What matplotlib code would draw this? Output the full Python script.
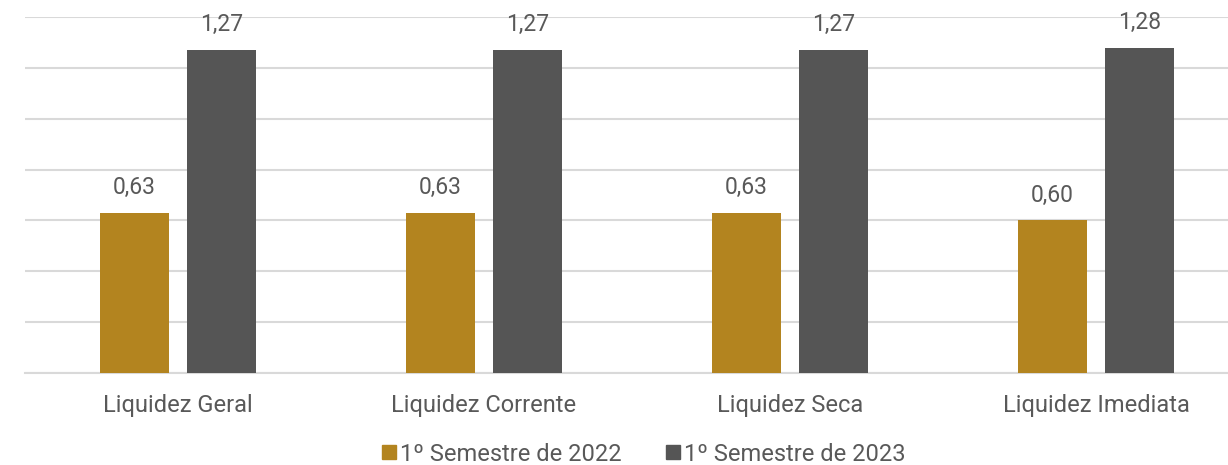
import matplotlib.pyplot as plt
import numpy as np

plt.rcParams['font.family'] = ['Roboto', 'DejaVu Sans']

categories = ['Liquidez Geral', 'Liquidez Corrente', 'Liquidez Seca', 'Liquidez Imediata']
sem_2022 = [0.63, 0.63, 0.63, 0.60]
sem_2023 = [1.27, 1.27, 1.27, 1.28]
series_names = ['1º Semestre de 2022', '1º Semestre de 2023']

gold = '#B3841F'
gray = '#555555'
text_col = '#595959'

fig = plt.figure(figsize=(12.28, 4.65), dpi=100)
# axes runs a bit past the right edge, like the original export
ax = fig.add_axes([25 / 1228, 92 / 465, 1224 / 1228, 356 / 465])

x = np.arange(len(categories))
w = 0.225
off = 0.143
b1 = ax.bar(x - off, sem_2022, w, color=gold, zorder=3, label=series_names[0])
b2 = ax.bar(x + off, sem_2023, w, color=gray, zorder=3, label=series_names[1])

for bars in (b1, b2):
    for r in bars:
        ax.annotate(f'{r.get_height():.2f}'.replace('.', ','),
                    (r.get_x() + r.get_width() / 2, r.get_height()),
                    xytext=(0, 10), textcoords='offset points',
                    ha='center', va='bottom', fontsize=16.5, color=text_col)

ax.set_xlim(-0.5, 3.5)
ax.set_ylim(0, 1.4)
ax.set_yticks(np.arange(0, 1.41, 0.2))
ax.yaxis.grid(True, color='#D9D9D9', linewidth=1.5, zorder=0)
ax.set_yticklabels([])
ax.tick_params(axis='y', length=0)
ax.tick_params(axis='x', length=0, pad=15, labelsize=17, labelcolor=text_col)
ax.set_xticks(x)
ax.set_xticklabels(categories)
for s in ['top', 'right', 'left']:
    ax.spines[s].set_visible(False)
ax.spines['bottom'].set_color('#D9D9D9')
ax.spines['bottom'].set_linewidth(1.5)

handles = [plt.Line2D([], [], marker='s', linestyle='', color=c, markersize=10)
           for c in (gold, gray)]
fig.legend(handles, series_names, loc='center', bbox_to_anchor=(642 / 1228, 1 - 454 / 465),
           ncol=2, frameon=False, fontsize=17, labelcolor=text_col,
           handletextpad=0.0, columnspacing=1.75, handlelength=0.9,
           borderpad=0.1)

fig.savefig('out.png', dpi=100)
